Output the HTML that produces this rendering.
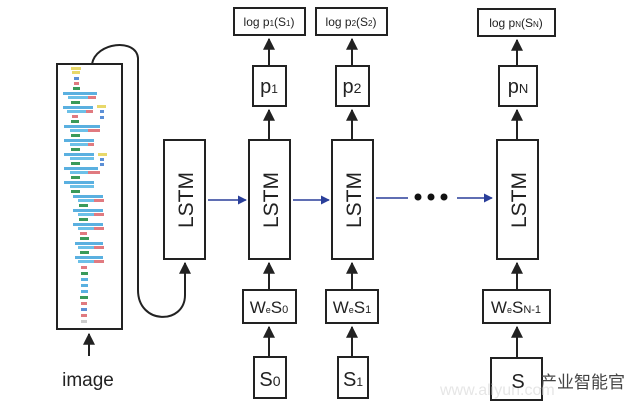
<!DOCTYPE html>
<html><head><meta charset="utf-8"><style>
html,body{margin:0;padding:0;background:#fff;width:640px;height:408px;overflow:hidden}
svg{display:block}
text{font-family:"Liberation Sans",sans-serif;fill:#222}
</style></head><body>
<svg width="640" height="408" viewBox="0 0 640 408" xmlns="http://www.w3.org/2000/svg">
<defs>
<marker id="ab" viewBox="0 0 10 10" refX="9" refY="5" markerWidth="6" markerHeight="6" orient="auto"><path d="M0,0L10,5L0,10z" fill="#222"/></marker>
<marker id="au" viewBox="0 0 10 10" refX="9" refY="5" markerWidth="6" markerHeight="6" orient="auto"><path d="M0,0L10,5L0,10z" fill="#2a3f9a"/></marker>
</defs>
<g fill="none" stroke="#222" stroke-width="2">
<rect x="57" y="64" width="65" height="265"/>
<path d="M92,64 C96,42 136,38 138,58 L138,290 C138,325 185,325 185,295 L185,263" marker-end="url(#ab)"/>
<rect x="164" y="140" width="41" height="119"/>
<rect x="249" y="140" width="41" height="119"/>
<rect x="332" y="140" width="41" height="119"/>
<rect x="497" y="140" width="41" height="119"/>
<rect x="234" y="8" width="71" height="27"/>
<rect x="316" y="8" width="71" height="27"/>
<rect x="478" y="9" width="77" height="27"/>
<rect x="253" y="66" width="33" height="40"/>
<rect x="336" y="66" width="33" height="40"/>
<rect x="499" y="66" width="38" height="40"/>
<rect x="243" y="290" width="53" height="33"/>
<rect x="326" y="290" width="52" height="33"/>
<rect x="483" y="290" width="67" height="33"/>
<rect x="254" y="357" width="32" height="41"/>
<rect x="338" y="357" width="30" height="41"/>
<rect x="491" y="358" width="51" height="42"/>
<g marker-end="url(#ab)">
<path d="M89,356 L89,334"/>
<path d="M269,139 L269,110"/><path d="M269,65 L269,39"/>
<path d="M352,139 L352,110"/><path d="M352,65 L352,39"/>
<path d="M517,139 L517,110"/><path d="M517,65 L517,40"/>
<path d="M269,289 L269,263"/><path d="M352,289 L352,263"/><path d="M517,289 L517,263"/>
<path d="M269,356 L269,327"/><path d="M352,356 L352,327"/><path d="M517,357 L517,327"/>
</g>
</g>
<g stroke="#2a3f9a" stroke-width="1.5" fill="none" marker-end="url(#au)">
<path d="M208,200 L246,200"/><path d="M293,200 L329,200"/><path d="M457,198 L492,198"/>
</g>
<path d="M376,198 L408,198" stroke="#2a3f9a" stroke-width="1.5"/>
<g fill="#111"><circle cx="418" cy="197" r="3.5"/><circle cx="431" cy="197" r="3.5"/><circle cx="444" cy="197" r="3.5"/></g>
<g font-size="21">
<text transform="translate(193,200) rotate(-90)" text-anchor="middle">LSTM</text>
<text transform="translate(278,200) rotate(-90)" text-anchor="middle">LSTM</text>
<text transform="translate(361,200) rotate(-90)" text-anchor="middle">LSTM</text>
<text transform="translate(526,200) rotate(-90)" text-anchor="middle">LSTM</text>
</g>
<g font-size="12" text-anchor="middle">
<text x="269" y="26">log p<tspan font-size="8">1</tspan>(S<tspan font-size="8">1</tspan>)</text>
<text x="351" y="26">log p<tspan font-size="8">2</tspan>(S<tspan font-size="8">2</tspan>)</text>
<text x="516" y="27">log p<tspan font-size="8">N</tspan>(S<tspan font-size="8">N</tspan>)</text>
</g>
<g font-size="20" text-anchor="middle">
<text x="269" y="93">p<tspan font-size="12">1</tspan></text>
<text x="352" y="93">p<tspan font-size="14">2</tspan></text>
<text x="518" y="93">p<tspan font-size="13">N</tspan></text>
<text x="270" y="386">S<tspan font-size="14">0</tspan></text>
<text x="353" y="386">S<tspan font-size="12">1</tspan></text>
</g>
<g font-size="17" text-anchor="middle">
<text x="269" y="313">W<tspan font-size="9">e</tspan>S<tspan font-size="11">0</tspan></text>
<text x="352" y="313">W<tspan font-size="9">e</tspan>S<tspan font-size="11">1</tspan></text>
<text x="516" y="313">W<tspan font-size="9">e</tspan>S<tspan font-size="11">N-1</tspan></text>
</g>
<text x="88" y="386" font-size="19" text-anchor="middle">image</text>
<text x="440" y="395" font-size="16" style="fill:#e6e6e6">www.aliyun.com</text>
<text x="518" y="388" font-size="20" text-anchor="middle">S</text>
<text x="540" y="388" font-size="17" style="fill:#444;font-family:'Liberation Sans','Noto Sans CJK SC',sans-serif">产业智能官</text>
<g stroke="none">
<rect x="71" y="67" width="10" height="3" fill="#e8d86a"/><rect x="72" y="71" width="8" height="3" fill="#e8d86a"/>
<rect x="74" y="77" width="5" height="3" fill="#5b8fd6"/><rect x="74" y="82" width="5" height="3" fill="#e07a80"/>
<rect x="73" y="87" width="7" height="3" fill="#3a9a5a"/>
<rect x="63" y="92" width="34" height="3" fill="#5ab0e0"/><rect x="68" y="96" width="28" height="3" fill="#6cc0e8"/><rect x="88" y="96" width="8" height="3" fill="#e07a80"/>
<rect x="71" y="101" width="9" height="3" fill="#3a9a5a"/>
<rect x="63" y="106" width="30" height="3" fill="#5ab0e0"/><rect x="97" y="105" width="9" height="3" fill="#e8d86a"/>
<rect x="67" y="110" width="26" height="3" fill="#6cc0e8"/><rect x="86" y="110" width="7" height="3" fill="#e07a80"/><rect x="100" y="110" width="4" height="3" fill="#5b8fd6"/>
<rect x="72" y="115" width="6" height="3" fill="#e07a80"/><rect x="100" y="116" width="4" height="3" fill="#5b8fd6"/>
<rect x="71" y="120" width="8" height="3" fill="#3a9a5a"/>
<rect x="64" y="125" width="36" height="3" fill="#5ab0e0"/><rect x="70" y="129" width="30" height="3" fill="#6cc0e8"/><rect x="88" y="129" width="12" height="3" fill="#e07a80"/>
<rect x="71" y="134" width="9" height="3" fill="#3a9a5a"/>
<rect x="64" y="139" width="30" height="3" fill="#5ab0e0"/><rect x="70" y="143" width="24" height="3" fill="#6cc0e8"/><rect x="88" y="143" width="6" height="3" fill="#e07a80"/>
<rect x="71" y="148" width="9" height="3" fill="#3a9a5a"/>
<rect x="64" y="153" width="30" height="3" fill="#5ab0e0"/><rect x="98" y="153" width="9" height="3" fill="#e8d86a"/>
<rect x="70" y="157" width="24" height="3" fill="#6cc0e8"/><rect x="100" y="158" width="4" height="3" fill="#5b8fd6"/>
<rect x="71" y="162" width="9" height="3" fill="#3a9a5a"/><rect x="100" y="163" width="4" height="3" fill="#5b8fd6"/>
<rect x="64" y="167" width="34" height="3" fill="#5ab0e0"/><rect x="70" y="171" width="30" height="3" fill="#6cc0e8"/><rect x="88" y="171" width="12" height="3" fill="#e07a80"/>
<rect x="71" y="176" width="9" height="3" fill="#3a9a5a"/>
<rect x="64" y="181" width="30" height="3" fill="#5ab0e0"/><rect x="70" y="185" width="24" height="3" fill="#6cc0e8"/>
<rect x="71" y="190" width="9" height="3" fill="#3a9a5a"/>
<rect x="73" y="195" width="30" height="3" fill="#5ab0e0"/><rect x="78" y="199" width="26" height="3" fill="#6cc0e8"/><rect x="94" y="199" width="10" height="3" fill="#e07a80"/>
<rect x="79" y="204" width="9" height="3" fill="#3a9a5a"/>
<rect x="73" y="209" width="30" height="3" fill="#5ab0e0"/><rect x="78" y="213" width="26" height="3" fill="#6cc0e8"/><rect x="94" y="213" width="10" height="3" fill="#e07a80"/>
<rect x="79" y="218" width="9" height="3" fill="#3a9a5a"/>
<rect x="73" y="223" width="30" height="3" fill="#5ab0e0"/><rect x="78" y="227" width="26" height="3" fill="#6cc0e8"/><rect x="94" y="227" width="10" height="3" fill="#e07a80"/>
<rect x="80" y="232" width="7" height="3" fill="#e07a80"/>
<rect x="80" y="237" width="9" height="3" fill="#3a9a5a"/>
<rect x="75" y="242" width="28" height="3" fill="#5ab0e0"/><rect x="78" y="246" width="26" height="3" fill="#6cc0e8"/><rect x="94" y="246" width="10" height="3" fill="#e07a80"/>
<rect x="80" y="251" width="9" height="3" fill="#3a9a5a"/>
<rect x="75" y="256" width="28" height="3" fill="#5ab0e0"/><rect x="78" y="260" width="26" height="3" fill="#6cc0e8"/><rect x="94" y="260" width="10" height="3" fill="#e07a80"/>
<rect x="81" y="266" width="6" height="3" fill="#e07a80"/>
<rect x="81" y="272" width="7" height="3" fill="#3a9a5a"/><rect x="81" y="278" width="7" height="3" fill="#5ab0e0"/>
<rect x="81" y="284" width="7" height="3" fill="#5ab0e0"/><rect x="81" y="290" width="7" height="3" fill="#5ab0e0"/>
<rect x="80" y="296" width="8" height="3" fill="#3a9a5a"/><rect x="81" y="302" width="6" height="3" fill="#e07a80"/>
<rect x="81" y="308" width="6" height="3" fill="#5b8fd6"/><rect x="81" y="314" width="6" height="3" fill="#e07a80"/>
<rect x="81" y="320" width="6" height="3" fill="#ccc"/>
</g>
</svg>
</body></html>
